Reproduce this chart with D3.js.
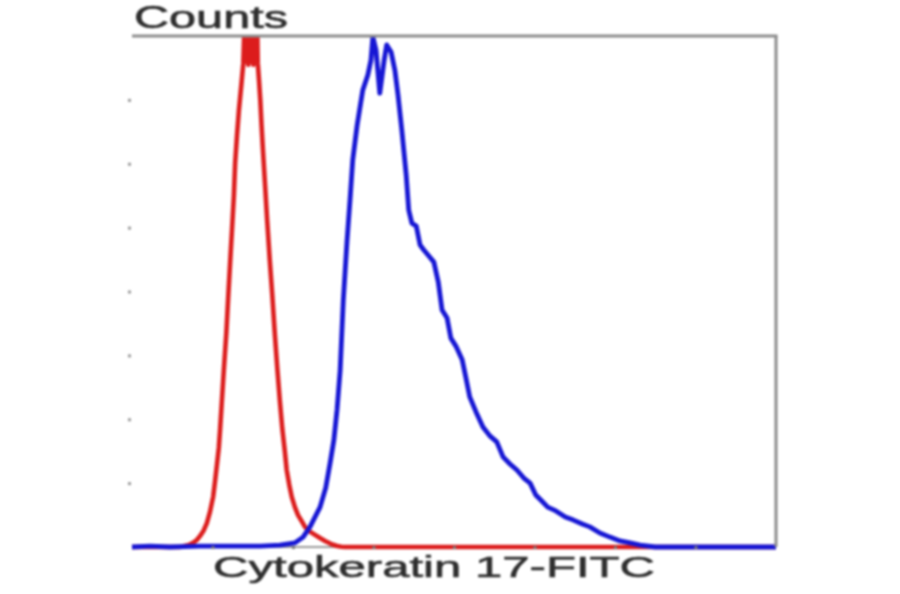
<!DOCTYPE html>
<html>
<head>
<meta charset="utf-8">
<script src="https://cdn.jsdelivr.net/npm/d3@7"></script>
<style>
  html, body { margin: 0; padding: 0; background: #ffffff; }
  svg { display: block; filter: blur(0.8px); }
</style>
</head>
<body>
<svg id="chart" width="900" height="594"></svg>
<script>
// ---- data (channel, counts) ----
const xTicks = [128, 256, 384, 512, 640, 768, 896];
const yTicks = [20, 40, 60, 80, 100, 120, 140];

const isotypeX = [0, 76, 90, 97, 103, 108, 114, 119, 124, 129, 132, 135, 138, 140, 143, 146, 150, 153, 156, 159, 162, 164, 167, 170, 174, 177, 179, 181, 183, 185, 187, 189, 191, 193, 195, 197, 199, 200, 202, 204, 206, 208, 212, 215, 219, 223, 227, 231, 235, 239, 243, 246, 250, 254, 259, 264, 270, 275, 283, 291, 299, 307, 316, 326, 333, 339, 1024];
const isotypeY = [0, 0, 0.6, 1.3, 2.2, 3.4, 5.2, 7.5, 11, 15.7, 20.5, 25.7, 31, 36.6, 46, 55.4, 67, 78.3, 89, 99.3, 110, 120.2, 129, 136.8, 145, 151.5, 164, 152, 165, 151, 166, 152, 165, 151, 166, 152, 165, 151.5, 146, 140, 132, 125, 112, 102, 90, 79, 67, 56, 46, 37, 30, 24.1, 19.5, 15.7, 12.5, 10.0, 8, 6.3, 4.8, 3.8, 2.8, 1.9, 1.0, 0.3, 0.1, 0, 0];

const ck17X = [0, 29, 60, 108, 156, 204, 235, 259, 272, 283, 299, 308, 315, 321, 326, 331, 336, 339, 342, 347, 351, 358, 367, 375, 380, 383, 388, 394, 401, 405, 412, 418, 423, 429, 436, 440, 445, 452, 458, 464, 472, 480, 487, 493, 501, 507, 515, 525, 531, 537, 547, 558, 569, 580, 590, 601, 612, 623, 633, 642, 650, 661, 674, 689, 701, 716, 728, 744, 760, 776, 792, 808, 832, 903, 1024];
const ck17Y = [0, 0.3, 0, 0.3, 0.3, 0.3, 0.6, 1.3, 3.1, 6.3, 12.5, 18.5, 26.3, 33.5, 42.9, 55.4, 77.3, 86.7, 96.1, 109.6, 121.2, 132.1, 143.1, 147.8, 152.5, 159.7, 155.6, 142.1, 152.5, 157.2, 155, 149.3, 141.5, 130.6, 116.5, 105.5, 101.4, 100.5, 94.6, 93, 91.1, 89.2, 83, 74.2, 71.7, 65.4, 62.9, 58.6, 52.9, 47, 42.3, 37.6, 34.8, 32.9, 28.2, 26, 24.1, 21.6, 20, 16.3, 14.7, 12.5, 11.3, 9.4, 8.5, 7.2, 6.3, 4.4, 3.1, 1.9, 1.3, 0.6, 0, 0, 0];

const yTitle = "Counts";
const xTitle = "Cytokeratin 17-FITC";

// ---- layout ----
const svg = d3.select("#chart");
const pLeft = 132, pRight = 776, pTop = 36, pBottom = 547;

const x = d3.scaleLinear().domain([0, 1024]).range([pLeft, pRight]);
const y = d3.scaleLinear().domain([0, 160]).range([pBottom, pTop]);

svg.append("defs").append("clipPath").attr("id", "plotclip")
  .append("rect").attr("x", pLeft - 4).attr("y", pTop).attr("width", pRight - pLeft + 4).attr("height", pBottom - pTop + 4);

// bottom axis line (under curves)
svg.append("line").attr("x1", pLeft).attr("x2", pRight).attr("y1", pBottom).attr("y2", pBottom)
  .attr("stroke", "#9a9a9a").attr("stroke-width", 2);

const plot = svg.append("g").attr("clip-path", "url(#plotclip)");

plot.append("path")
  .datum(isotypeX.map((v, i) => [v, isotypeY[i]]))
  .attr("d", d3.line().x(d => x(d[0])).y(d => y(d[1])).curve(d3.curveLinear))
  .attr("fill", "none").attr("stroke", "#dc1c1c").attr("stroke-width", 4.6)
  .attr("stroke-linejoin", "round");

plot.append("path")
  .datum(ck17X.map((v, i) => [v, ck17Y[i]]))
  .attr("d", d3.line().x(d => x(d[0])).y(d => y(d[1])).curve(d3.curveLinear))
  .attr("fill", "none").attr("stroke", "#1616d4").attr("stroke-width", 4.8)
  .attr("stroke-linejoin", "round");

// frame: top and right
svg.append("line").attr("x1", pLeft).attr("x2", pRight + 1.5).attr("y1", pTop).attr("y2", pTop)
  .attr("stroke", "#8c8c8c").attr("stroke-width", 3);
svg.append("line").attr("x1", pRight).attr("x2", pRight).attr("y1", pTop).attr("y2", pBottom)
  .attr("stroke", "#8c8c8c").attr("stroke-width", 3);

// tick dots
const yAxis = svg.append("g").attr("transform", `translate(${pLeft - 1},0)`)
  .call(d3.axisLeft(y).tickValues(yTicks).tickSize(3).tickFormat(""));
yAxis.select(".domain").remove();
yAxis.selectAll(".tick line").attr("stroke", "#9a9a9a").attr("stroke-width", 3);

const xAxis = svg.append("g").attr("transform", `translate(0,${pBottom - 1})`)
  .call(d3.axisBottom(x).tickValues(xTicks).tickSize(3).tickFormat(""));
xAxis.select(".domain").remove();
xAxis.selectAll(".tick line").attr("stroke", "#777777").attr("stroke-width", 3);

// titles
svg.append("text").attr("x", 134).attr("y", 28)
  .attr("font-family", "Liberation Sans, Arial, sans-serif").attr("font-size", 31)
  .attr("fill", "#2e2e2e").attr("stroke", "#2e2e2e").attr("stroke-width", 0.6)
  .attr("textLength", 154).attr("lengthAdjust", "spacingAndGlyphs")
  .text(yTitle);

svg.append("text").attr("x", 213).attr("y", 577)
  .attr("font-family", "Liberation Sans, Arial, sans-serif").attr("font-size", 30)
  .attr("fill", "#2e2e2e").attr("stroke", "#2e2e2e").attr("stroke-width", 0.6)
  .attr("textLength", 442).attr("lengthAdjust", "spacingAndGlyphs")
  .text(xTitle);
</script>
</body>
</html>
